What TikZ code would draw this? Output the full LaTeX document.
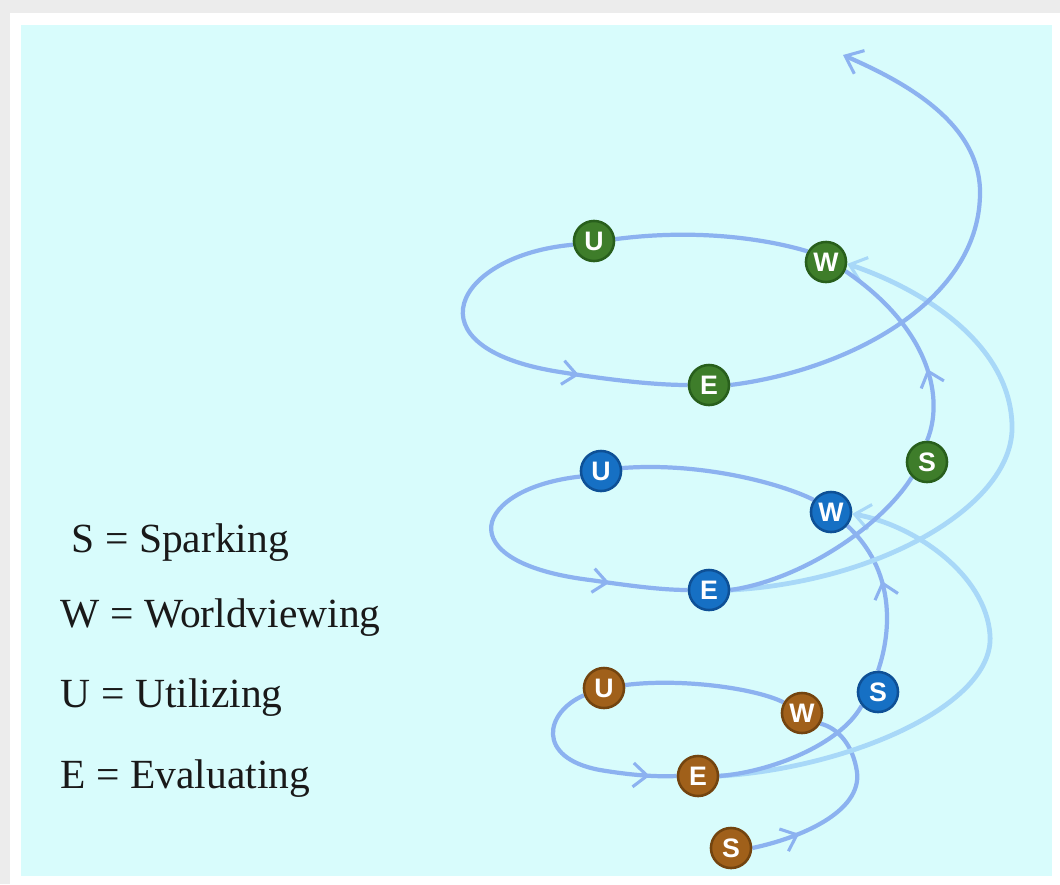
\documentclass[tikz,border=0pt]{standalone}
\usepackage{fontspec}
\setmainfont{Liberation Serif}
\newfontfamily\nodefont{Liberation Sans}
\usetikzlibrary{arrows.meta,decorations.markings}
\definecolor{bgcyan}{RGB}{216,252,252}
\definecolor{framegray}{RGB}{236,236,236}
\definecolor{curve}{RGB}{140,178,240}
\definecolor{lightcurve}{RGB}{168,216,248}
\definecolor{gfill}{RGB}{62,125,42}
\definecolor{gdraw}{RGB}{40,95,28}
\definecolor{bfill}{RGB}{22,112,196}
\definecolor{bdraw}{RGB}{14,80,150}
\definecolor{rfill}{RGB}{160,96,26}
\definecolor{rdraw}{RGB}{115,68,15}
\pgfdeclarelayer{frame}
\pgfdeclarelayer{curves}
\pgfsetlayers{frame,curves,main}
\begin{document}
\begin{tikzpicture}[x=0.025cm,y=-0.025cm,
  stage/.style={circle, minimum size=28.5pt, inner sep=0pt, line width=1.8pt, text=white,
    font=\nodefont\bfseries\fontsize{19}{19}\selectfont},
  gstage/.style={stage, fill=gfill, draw=gdraw},
  bstage/.style={stage, fill=bfill, draw=bdraw},
  rstage/.style={stage, fill=rfill, draw=rdraw},
  flow/.style={color=curve, line width=3pt},
  lflow/.style={color=lightcurve, line width=3.4pt},
  midarrow/.style={postaction={decorate}, decoration={markings,
    mark=at position #1 with {\arrow{Straight Barb[length=10pt,width=17pt,line width=2.2pt]}}}},
  tipend/.style={-{Straight Barb[length=11pt,width=18pt,line width=2.2pt]}},
  legend/.style={anchor=base west, font=\fontsize{29.5}{34}\selectfont, text=black!90}
]
\begin{pgfonlayer}{frame}
\fill[framegray] (0,0) rectangle (1060,884);
\fill[white] (10,13) rectangle (1060,884);
\fill[bgcyan] (21,25) rectangle (1052,876);
\end{pgfonlayer}
\useasboundingbox (0,0) rectangle (1060,884);

% nodes
\node[rstage] (rS) at (731,848) {S};
\node[rstage] (rW) at (802,713) {W};
\node[rstage] (rU) at (604,688) {U};
\node[rstage] (rE) at (698,776) {E};
\node[bstage] (bS) at (878,692) {S};
\node[bstage] (bW) at (831,512) {W};
\node[bstage] (bU) at (601,471) {U};
\node[bstage] (bE) at (709,590) {E};
\node[gstage] (gS) at (927,462) {S};
\node[gstage] (gW) at (826,262) {W};
\node[gstage] (gU) at (594,241) {U};
\node[gstage] (gE) at (709,385) {E};
\coordinate (top) at (843,55);

% legend
\node[legend] (l1) at (67,552) {S = Sparking};
\node[legend] (l2) at (56,627) {W = Worldviewing};
\node[legend] (l3) at (56,707) {U = Utilizing};
\node[legend] (l4) at (56,788) {E = Evaluating};

\begin{pgfonlayer}{curves}
% brown level
\draw[flow, midarrow=0.24] (rS.east) .. controls (800,838) and (862,812) .. (857,772)
  .. controls (853,745) and (838,728) .. (rW.-30);
\draw[flow] (rW.150) .. controls (755,688) and (680,678) .. (rU.8);
\draw[flow, midarrow=0.86] (rU.200) .. controls (545,712) and (535,758) .. (600,770)
  .. controls (630,775) and (655,777) .. (rE.west);
\draw[lflow, tipend] (rE.east) .. controls (850,768) and (995,705) .. (990,635)
  .. controls (986,575) and (915,525) .. (bW.-5);
\draw[flow] (rE.east) .. controls (770,772) and (840,745) .. (bS.220);
% blue level
\draw[flow, midarrow=0.58] (bS.north) .. controls (892,630) and (895,570) .. (bW.-40);
\draw[flow] (bW.145) .. controls (780,483) and (700,462) .. (bU.8);
\draw[flow, midarrow=0.76] (bU.195) .. controls (475,488) and (445,562) .. (590,580)
  .. controls (625,585) and (660,590) .. (bE.west);
\draw[lflow, tipend] (bE.east) .. controls (880,582) and (1015,505) .. (1012,425)
  .. controls (1010,345) and (925,290) .. (gW.-5);
\draw[flow] (bE.east) .. controls (800,580) and (880,528) .. (gS.225);
% green level
\draw[flow, midarrow=0.36] (gS.north) .. controls (944,400) and (932,330) .. (gW.-25);
\draw[flow] (gW.150) .. controls (770,240) and (700,228) .. (gU.5);
\draw[flow, midarrow=0.72] (gU.190) .. controls (455,255) and (405,348) .. (560,372)
  .. controls (610,380) and (655,385) .. (gE.west);
\draw[flow, tipend] (gE.east) .. controls (850,370) and (982,300) .. (980,190)
  .. controls (978,120) and (900,80) .. (top);
\end{pgfonlayer}
\end{tikzpicture}
\end{document}
